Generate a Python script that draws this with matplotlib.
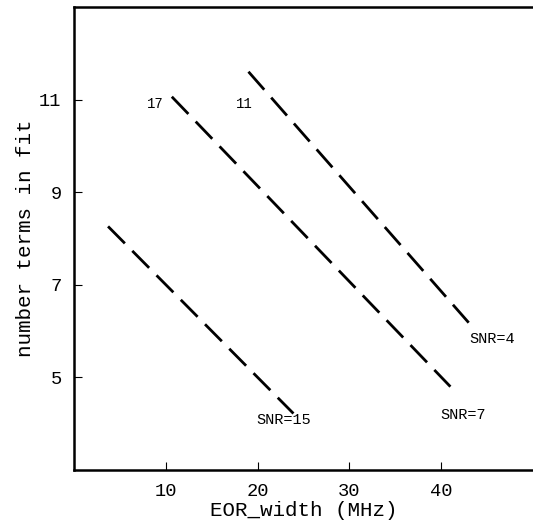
import matplotlib
matplotlib.use("Agg")
import matplotlib.pyplot as plt

# curves: EOR width (MHz) vs number of terms in fit
snr15_x = [3.7, 23.9]
snr15_y = [8.26, 4.22]
snr7_x = [10.65, 41.0]
snr7_y = [11.06, 4.8]
snr4_x = [19.0, 43.0]
snr4_y = [11.6, 6.18]

xticks = [10, 20, 30, 40]
yticks = [5, 7, 9, 11]

FONT = "Liberation Mono"

fig = plt.figure(figsize=(5.33, 5.29), dpi=100)
ax = fig.add_axes([0.139, 0.1115, 0.861, 0.8755])

for xs, ys in [(snr15_x, snr15_y), (snr7_x, snr7_y), (snr4_x, snr4_y)]:
    ax.plot(xs, ys, color="black", lw=2.0, dashes=(8.6, 3.8), dash_capstyle="butt")

ax.text(8.9, 10.9, "17", fontsize=10, family=FONT, ha="center", va="center")
ax.text(18.6, 10.9, "11", fontsize=10, family=FONT, ha="center", va="center")
ax.text(45.5, 5.82, "SNR=4", fontsize=11, family=FONT, ha="center", va="center")
ax.text(42.4, 4.18, "SNR=7", fontsize=11, family=FONT, ha="center", va="center")
ax.text(22.8, 4.09, "SNR=15", fontsize=11, family=FONT, ha="center", va="center")

ax.set_xlim(0, 50)
ax.set_ylim(3, 13)
ax.set_xticks(xticks)
ax.set_yticks(yticks)
ax.set_xticklabels([str(t) for t in xticks], family=FONT, fontsize=13.5)
ax.set_yticklabels([str(t) for t in yticks], family=FONT, fontsize=13.5)
ax.tick_params(direction="in", length=6, width=0.8, pad=9, top=False, right=False)

for side in ["left", "bottom", "top"]:
    ax.spines[side].set_linewidth(1.8)
ax.spines["right"].set_visible(False)

ax.set_xlabel("EOR_width (MHz)", family=FONT, fontsize=15, labelpad=1)
ax.set_ylabel("number terms in fit", family=FONT, fontsize=15, labelpad=3)

fig.savefig("out.png", dpi=100)
